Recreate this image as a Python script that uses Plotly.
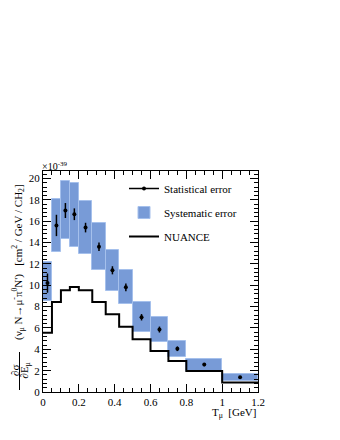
import numpy as np
import plotly.graph_objects as go

# bin edges in T_mu [GeV]
bin_edges = [0, 0.05, 0.1, 0.15, 0.2, 0.275, 0.35, 0.425, 0.5, 0.6, 0.7, 0.8, 1.0, 1.2]

# measured cross section (x 1e-39 cm2/GeV/CH2)
xsec = [10.2, 15.6, 17.0, 16.65, 15.4, 13.6, 11.4, 9.8, 7.0, 5.85, 4.05, 2.57, 1.38]
stat_err = [0.9, 1.0, 0.7, 0.55, 0.45, 0.4, 0.38, 0.36, 0.3, 0.28, 0.22, 0.15, 0.12]
syst_low = [8.5, 13.1, 14.3, 13.6, 12.9, 11.4, 9.5, 8.2, 5.6, 4.7, 3.3, 1.97, 1.03]
syst_high = [12.2, 18.1, 19.8, 19.6, 17.9, 15.8, 13.3, 11.4, 8.4, 7.0, 4.75, 3.06, 1.72]

# NUANCE prediction
nuance = [5.56, 8.44, 9.53, 9.84, 9.53, 8.44, 7.28, 6.1, 4.94, 3.84, 2.9, 1.97, 0.88]

edges = np.array(bin_edges)
centers = 0.5 * (edges[:-1] + edges[1:])
widths = edges[1:] - edges[:-1]

serif = "Liberation Serif"
OFF = 8  # page body margin
W, H = 340 - OFF, 440 - OFF
L, T, B = 43 - OFF, 171 - OFF, 48
pw = 215
R = W - L - pw
ph = H - T - B


# helpers: reference-window pixels -> paper coords
def px(x):
    return (x - OFF - L) / pw


def py(y):
    return (H - B - (y - OFF)) / ph


fig = go.Figure()

fig.add_trace(go.Bar(
    x=centers, width=widths,
    base=syst_low, y=np.array(syst_high) - np.array(syst_low),
    marker=dict(color="rgb(120,155,215)", line=dict(color="rgb(165,192,236)", width=1)),
    name="Systematic error", legendrank=2, legendgroup="b",
))

fig.add_trace(go.Scatter(
    x=list(edges), y=nuance + [nuance[-1]],
    mode="lines", line=dict(color="black", width=2, shape="hv"),
    name="NUANCE", legendrank=3, legendgroup="c",
))

fig.add_trace(go.Scatter(
    x=centers, y=xsec, mode="markers",
    marker=dict(color="black", size=4),
    error_y=dict(type="data", array=stat_err, color="black", thickness=1.5, width=0),
    showlegend=False,
))
# legend entry for stat error
fig.add_trace(go.Scatter(
    x=[None], y=[None], mode="lines+markers",
    line=dict(color="black", width=1.5), marker=dict(color="black", size=4),
    name="Statistical error", legendrank=1, legendgroup="a",
))

axis_common = dict(
    showline=True, linecolor="black", linewidth=1, mirror="ticks",
    ticks="inside", ticklen=8, tickcolor="black", tickwidth=1,
    showgrid=False, zeroline=False,
    tickfont=dict(family=serif, size=11, color="black"),
)

fig.update_xaxes(range=[0, 1.2], dtick=0.2, tick0=0,
                 minor=dict(dtick=0.05, ticks="inside", ticklen=4, tickcolor="black"),
                 **axis_common)
fig.update_yaxes(range=[0, 20.7], dtick=2, tick0=0,
                 minor=dict(dtick=0.4, ticks="inside", ticklen=4, tickcolor="black"),
                 **axis_common)

ann = [
    dict(text="×10<sup>-39</sup>", x=px(40), y=py(166), xanchor="left", yanchor="middle",
         font=dict(size=10)),
    dict(text="T<sub>μ</sub>  [GeV]", x=1.0, y=py(413), xanchor="right", yanchor="middle",
         font=dict(size=11)),
    dict(text="(ν<sub>μ</sub> N→μ<sup>-</sup>π<sup>0</sup>N')   [cm<sup>2</sup> / GeV / CH<sub>2</sub>]",
         textangle=-90, x=px(18), y=py(262), xanchor="center", yanchor="middle",
         font=dict(size=11)),
    dict(text="∂σ", textangle=-90, x=px(15), y=py(371), xanchor="center", yanchor="middle",
         font=dict(size=11)),
    dict(text="∂E<sub>μ</sub>", textangle=-90, x=px(24.5), y=py(371), xanchor="center", yanchor="middle",
         font=dict(size=11)),
]
for a in ann:
    a.update(xref="paper", yref="paper", showarrow=False)
    a["font"].update(family=serif, color="black")

fig.update_layout(
    width=W, height=H,
    margin=dict(l=L, r=R, t=T, b=B),
    font=dict(family=serif, color="black"),
    paper_bgcolor="white", plot_bgcolor="white",
    bargap=0,
    annotations=ann,
    shapes=[dict(type="line", xref="paper", yref="paper",
                 x0=px(19.5), x1=px(19.5), y0=py(352), y1=py(390),
                 line=dict(color="black", width=1))],
    legend=dict(x=px(124), y=py(174), xanchor="left", yanchor="top",
                bgcolor="rgba(0,0,0,0)", font=dict(family=serif, size=11, color="black"),
                tracegroupgap=5, itemwidth=30),
    showlegend=True,
)

fig.write_html("out.html")
